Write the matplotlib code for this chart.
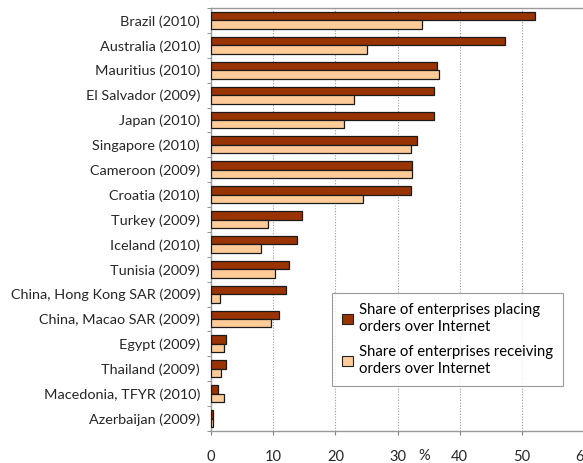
import numpy as np
import matplotlib.pyplot as plt
from matplotlib.patches import Patch

countries = ["Brazil (2010)", "Australia (2010)", "Mauritius (2010)", "El Salvador (2009)",
             "Japan (2010)", "Singapore (2010)", "Cameroon (2009)", "Croatia (2010)",
             "Turkey (2009)", "Iceland (2010)", "Tunisia (2009)",
             "China, Hong Kong SAR (2009)", "China, Macao SAR (2009)", "Egypt (2009)",
             "Thailand (2009)", "Macedonia, TFYR (2010)", "Azerbaijan (2009)"]
placing = [52.1, 47.2, 36.3, 35.9, 35.9, 33.2, 32.3, 32.2, 14.7, 13.9, 12.5,
           12.0, 10.9, 2.4, 2.4, 1.2, 0.4]
receiving = [33.9, 25.1, 36.7, 23.0, 21.4, 32.2, 32.3, 24.5, 9.1, 8.0, 10.3,
             1.4, 9.6, 2.1, 1.6, 2.1, 0.3]
xticks = [0, 10, 20, 30, 40, 50, 60]

dark = "#993300"
light = "#FFCC99"
txt = "#262626"

plt.rcParams['font.family'] = ['Lato', 'DejaVu Sans']

fig = plt.figure(figsize=(5.83, 4.63), dpi=100)
ax = fig.add_axes([0.3619, 0.0691, 0.6401, 0.9136])

n = len(countries)
y = np.arange(n)[::-1]
h = 0.34
ax.barh(y + h / 2, placing, height=h, color=dark, edgecolor="#1a1a1a", linewidth=0.9, zorder=3)
ax.barh(y - h / 2, receiving, height=h, color=light, edgecolor="#1a1a1a", linewidth=0.9, zorder=3)

ax.set_ylim(-0.5, n - 0.5)
ax.set_xlim(0, 60)
ax.set_yticks(y)
ax.set_yticklabels(countries, fontsize=10.4, color=txt)
ax.set_yticks(np.arange(-0.5, n), minor=True)
ax.tick_params(axis="y", which="major", length=0, pad=8)
ax.tick_params(axis="y", which="minor", length=3, color="#808080")
ax.set_xticks(xticks)
ax.set_xticklabels([str(t) for t in xticks], fontsize=10.5, color=txt)
ax.tick_params(axis="x", length=3, color="#808080", pad=11)

for t in xticks[1:-1]:
    ax.axvline(t, color="#999999", linestyle=(0, (1, 1.5)), linewidth=0.8, zorder=1)

for s in ["left", "bottom", "top"]:
    ax.spines[s].set_color("#999999")
    ax.spines[s].set_linewidth(1.0)
ax.spines["right"].set_visible(False)

fig.text(424 / 583, 1 - 456 / 463, "%", fontsize=10.5, ha="center", va="center", color=txt)

handles = [Patch(facecolor=dark, edgecolor="#222222", linewidth=0.8),
           Patch(facecolor=light, edgecolor="#222222", linewidth=0.8)]
leg = ax.legend(handles,
                ["Share of enterprises placing\norders over Internet",
                 "Share of enterprises receiving\norders over Internet"],
                loc="upper left", bbox_to_anchor=(332 / 583, 1 - 293 / 463),
                bbox_transform=fig.transFigure, borderaxespad=0, fontsize=10.7,
                frameon=True, fancybox=False, handlelength=0.7, handleheight=0.7,
                handletextpad=0.4, labelspacing=0.8, borderpad=0.7)
leg.get_frame().set_edgecolor("#808080")
leg.get_frame().set_linewidth(0.8)

fig.savefig("out.png", dpi=100)
